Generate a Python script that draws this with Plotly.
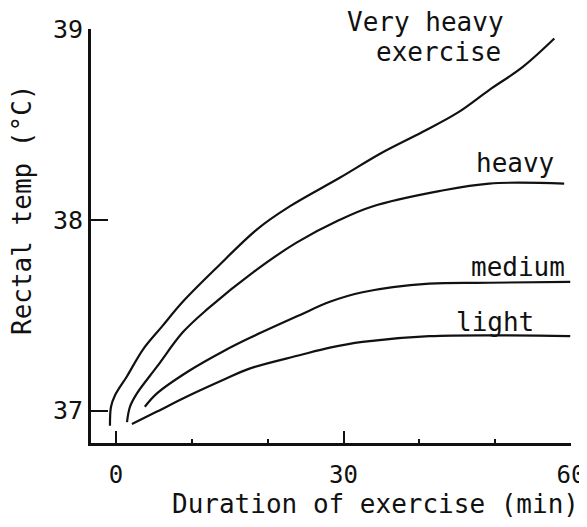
import plotly.graph_objects as go

# Duration of exercise (min) and rectal temperature (°C)
vh_t = [-0.8, -0.66, -0.13, 1.45, 3.55, 6.05, 8.8, 13.3, 18.6, 22.9, 29.5, 35.0, 40.4, 45.0, 49.2, 53.6, 57.8]
vh_T = [36.92, 37.02, 37.08, 37.18, 37.32, 37.44, 37.57, 37.75, 37.95, 38.07, 38.22, 38.35, 38.46, 38.56, 38.68, 38.80, 38.95]

heavy_t = [1.45, 1.84, 2.76, 5.4, 8.8, 12.0, 18.6, 23.8, 29.5, 33.8, 42.6, 49.2, 59.1]
heavy_T = [36.94, 37.02, 37.09, 37.23, 37.41, 37.53, 37.74, 37.88, 38.00, 38.07, 38.15, 38.19, 38.19]

medium_t = [3.8, 5.4, 9.7, 14.1, 17.6, 24.2, 28.2, 32.5, 41.3, 49.2, 59.9]
medium_T = [37.02, 37.09, 37.21, 37.31, 37.38, 37.50, 37.57, 37.62, 37.665, 37.67, 37.675]

light_t = [2.1, 5.4, 9.7, 14.1, 17.6, 24.2, 28.2, 32.5, 41.3, 59.9]
light_T = [36.93, 36.995, 37.08, 37.16, 37.22, 37.29, 37.33, 37.36, 37.39, 37.39]

x_ticks = [0, 30, 60]
x_minor = [10, 20, 40, 50]
y_ticks = [37, 38, 39]

FONT = "DejaVu Sans Mono"
INK = "#111111"

fig = go.Figure()
for t, T in [(vh_t, vh_T), (heavy_t, heavy_T), (medium_t, medium_T), (light_t, light_T)]:
    fig.add_trace(go.Scatter(x=t, y=T, mode="lines",
                             line=dict(color=INK, width=2.2, shape="spline", smoothing=1.0),
                             showlegend=False, hoverinfo="skip", cliponaxis=False))

# the page body adds an 8px offset; plot area spans window px x 91..571, y 29..443
fig.update_layout(
    width=579, height=511,
    margin=dict(l=83, r=16, t=21, b=76, autoexpand=False),
    paper_bgcolor="white", plot_bgcolor="white",
    font=dict(family=FONT, size=24, color=INK),
    showlegend=False,
)
fig.update_xaxes(
    range=[-3.3, 60], showgrid=False, zeroline=False, automargin=False,
    showline=True, linecolor=INK, linewidth=3,
    tickmode="array", tickvals=x_ticks, ticktext=[str(v) for v in x_ticks],
    ticks="inside", ticklen=12, tickwidth=2, tickcolor=INK,
    ticklabelstandoff=8,
    minor=dict(tickvals=x_minor, ticks="inside", ticklen=4, tickwidth=2, tickcolor=INK),
    tickfont=dict(family=FONT, size=24, color=INK),
)
fig.update_yaxes(
    range=[36.83, 39], showgrid=False, zeroline=False, automargin=False,
    showline=True, linecolor=INK, linewidth=3,
    tickmode="array", tickvals=y_ticks, ticktext=[str(v) for v in y_ticks],
    ticks="inside", ticklen=17, tickwidth=2, tickcolor=INK,
    tickfont=dict(family=FONT, size=25, color=INK),
)

def px(x):
    return (x - 91) / 480

def py(y):
    return (443 - y) / 414

labels = [
    ("Very heavy", 425, 22),
    ("exercise", 438, 52),
    ("heavy", 515, 163),
    ("medium", 518, 267),
    ("light", 495, 322),
]
for txt, x, y in labels:
    fig.add_annotation(x=px(x), y=py(y), xref="paper", yref="paper", text=txt, showarrow=False,
                       xanchor="center", yanchor="middle",
                       font=dict(family=FONT, size=26, color=INK))

fig.add_annotation(x=px(375), y=py(504), xref="paper", yref="paper",
                   text="Duration of exercise (min)", showarrow=False,
                   xanchor="center", yanchor="middle", font=dict(family=FONT, size=26, color=INK))
fig.add_annotation(x=px(22), y=py(210), xref="paper", yref="paper",
                   text="Rectal temp (°C)", textangle=-90, showarrow=False,
                   xanchor="center", yanchor="middle", font=dict(family=FONT, size=26, color=INK))

fig.write_html("out.html")
